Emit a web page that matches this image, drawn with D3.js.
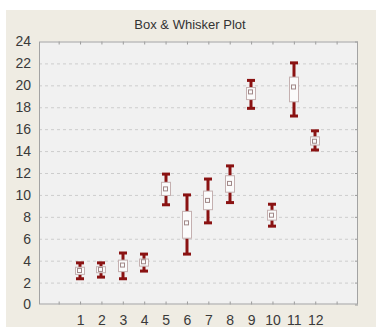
<!DOCTYPE html>
<html>
<head>
<meta charset="utf-8">
<script src="https://cdn.jsdelivr.net/npm/d3@7"></script>
<style>
  html, body { margin: 0; padding: 0; background: #ffffff; }
  svg { display: block; }
</style>
</head>
<body>
<svg id="chart" width="376" height="331"></svg>
<script>
// Groups on the x axis
const categories = [1, 2, 3, 4, 5, 6, 7, 8, 9, 10, 11, 12];
// Whisker ends, box edges and centre marker for each group
const whiskerLow  = [2.35, 2.5, 2.35, 3.05, 9.1, 4.6, 7.45, 9.3, 17.9, 7.15, 17.2, 14.1];
const boxLow      = [2.75, 2.9, 3.0, 3.5, 9.95, 6.05, 8.65, 10.25, 18.7, 7.7, 18.5, 14.55];
const centre      = [3.1, 3.2, 3.6, 3.9, 10.55, 7.45, 9.5, 11.05, 19.4, 8.15, 19.85, 14.9];
const boxHigh     = [3.4, 3.45, 4.05, 4.15, 11.15, 8.5, 10.35, 11.75, 19.8, 8.6, 20.75, 15.3];
const whiskerHigh = [3.8, 3.8, 4.7, 4.6, 11.9, 10.0, 11.45, 12.65, 20.45, 9.15, 22.05, 15.85];
// Axis ticks
const yTicks = [0, 2, 4, 6, 8, 10, 12, 14, 16, 18, 20, 22, 24];
const xTicks = [0, 1, 2, 3, 4, 5, 6, 7, 8, 9, 10, 11, 12, 13];
const title = "Box & Whisker Plot";

const svg = d3.select("#chart");
const W = 376, H = 331;
const plot = { left: 39, right: 358, top: 41.5, bottom: 304.5 };

// Window-style panel behind the chart
svg.append("rect").attr("x", 6).attr("y", 10).attr("width", W - 6).attr("height", 317)
  .attr("fill", "#efece3");

const x = d3.scaleLinear().domain([-0.92, 14]).range([plot.left, plot.right]);
const y = d3.scaleLinear().domain([0, 24]).range([plot.bottom, plot.top]);

// Plot area
svg.append("rect")
  .attr("x", plot.left).attr("y", plot.top)
  .attr("width", plot.right - plot.left).attr("height", plot.bottom - plot.top)
  .attr("fill", "#f1f1f1");

// Dashed horizontal gridlines
svg.append("g").selectAll("line")
  .data(yTicks.filter(v => v > 0 && v < 24))
  .join("line")
  .attr("x1", plot.left).attr("x2", plot.right)
  .attr("y1", d => y(d) + 0.5).attr("y2", d => y(d) + 0.5)
  .attr("stroke", "#cdcdcd").attr("stroke-width", 1)
  .attr("stroke-dasharray", "3,3");

// Left axis (labels only, the frame is drawn separately)
const yAxis = d3.axisLeft(y).tickValues(yTicks).tickSize(0).tickPadding(8);
svg.append("g").attr("transform", `translate(${plot.left},0)`).call(yAxis)
  .call(g => g.select(".domain").remove())
  .call(g => g.selectAll("text")
    .attr("font-family", "Liberation Sans, Arial, sans-serif")
    .attr("font-size", 14).attr("fill", "#3a3a3a"));

// Bottom axis with inward ticks; labels only on the groups
const xAxis = d3.axisBottom(x).tickValues(xTicks).tickSize(-3).tickPadding(11)
  .tickFormat(d => categories.includes(d) ? d : "");
svg.append("g").attr("transform", `translate(0,${plot.bottom})`).call(xAxis)
  .call(g => g.select(".domain").remove())
  .call(g => g.selectAll("line").attr("stroke", "#9a9a9a"))
  .call(g => g.selectAll("text")
    .attr("font-family", "Liberation Sans, Arial, sans-serif")
    .attr("font-size", 14).attr("fill", "#3a3a3a"));

// Matching inward ticks along the top edge
svg.append("g").attr("transform", `translate(0,${plot.top})`)
  .call(d3.axisTop(x).tickValues(xTicks).tickSize(-3).tickFormat(""))
  .call(g => g.select(".domain").remove())
  .call(g => g.selectAll("line").attr("stroke", "#9a9a9a"));

// Inward ticks along the right edge
svg.append("g").attr("transform", `translate(${plot.right},0)`)
  .call(d3.axisRight(y).tickValues(yTicks).tickSize(-3).tickFormat(""))
  .call(g => g.select(".domain").remove())
  .call(g => g.selectAll("line").attr("stroke", "#9a9a9a"));

// Frame
svg.append("rect")
  .attr("x", plot.left + 0.5).attr("y", plot.top + 0.5)
  .attr("width", plot.right - plot.left - 1).attr("height", plot.bottom - plot.top - 1)
  .attr("fill", "none").attr("stroke", "#a3a3a3").attr("stroke-width", 1);

// Title
svg.append("text")
  .attr("x", 190).attr("y", 29)
  .attr("text-anchor", "middle")
  .attr("font-family", "Liberation Sans, Arial, sans-serif")
  .attr("font-size", 13).attr("fill", "#333333")
  .text(title);

// Boxes and whiskers
const data = categories.map((c, i) => ({
  c, lo: whiskerLow[i], q1: boxLow[i], mid: centre[i], q3: boxHigh[i], hi: whiskerHigh[i]
}));
const boxW = 9, capW = 8, red = "#8a1212";

const g = svg.append("g").selectAll("g").data(data).join("g")
  .attr("transform", d => `translate(${Math.round(x(d.c))},0)`);

// Whisker stems
g.append("line")
  .attr("x1", 0).attr("x2", 0)
  .attr("y1", d => y(d.hi)).attr("y2", d => y(d.q3))
  .attr("stroke", red).attr("stroke-width", 3);
g.append("line")
  .attr("x1", 0).attr("x2", 0)
  .attr("y1", d => y(d.q1)).attr("y2", d => y(d.lo))
  .attr("stroke", red).attr("stroke-width", 3);

// Caps
g.append("line")
  .attr("x1", -capW / 2).attr("x2", capW / 2)
  .attr("y1", d => y(d.hi)).attr("y2", d => y(d.hi))
  .attr("stroke", red).attr("stroke-width", 3);
g.append("line")
  .attr("x1", -capW / 2).attr("x2", capW / 2)
  .attr("y1", d => y(d.lo)).attr("y2", d => y(d.lo))
  .attr("stroke", red).attr("stroke-width", 3);

// Box
g.append("rect")
  .attr("x", -boxW / 2).attr("width", boxW)
  .attr("y", d => y(d.q3)).attr("height", d => y(d.q1) - y(d.q3))
  .attr("fill", "#fbfbfb").attr("stroke", "#c4b0b0").attr("stroke-width", 1);

// Centre marker
g.append("rect")
  .attr("x", -2.5).attr("width", 4)
  .attr("y", d => y(d.mid) - 2).attr("height", 4)
  .attr("fill", "none").attr("stroke", "#a08888").attr("stroke-width", 1);
</script>
</body>
</html>
